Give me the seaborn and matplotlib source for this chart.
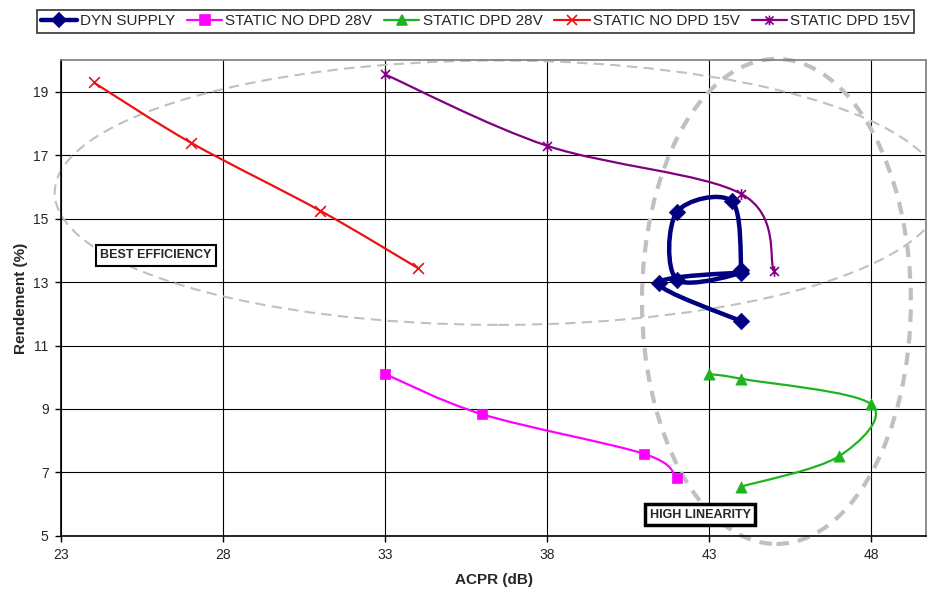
import numpy as np
import matplotlib
matplotlib.use('Agg')
import matplotlib.pyplot as plt
import seaborn as sns
from matplotlib.path import Path
from matplotlib.patches import PathPatch, Ellipse
from matplotlib.lines import Line2D
from matplotlib import font_manager

# ---- données ----
dyn_x = [44, 41.45, 44, 42, 42, 43.7, 44]
dyn_y = [11.76, 12.96, 13.3, 13.08, 15.2, 15.55, 13.37]

nodpd28_x = [33, 36, 41, 42]
nodpd28_y = [10.1, 8.83, 7.58, 6.82]

dpd28_x = [43, 44, 48, 47, 44]
dpd28_y = [10.1, 9.95, 9.15, 7.5, 6.55]

nodpd15_x = [24, 27, 31, 34]
nodpd15_y = [19.3, 17.4, 15.25, 13.45]

dpd15_x = [33, 38, 44, 45]
dpd15_y = [19.55, 17.3, 15.78, 13.35]

labels = ['DYN SUPPLY', 'STATIC NO DPD 28V', 'STATIC DPD 28V',
          'STATIC NO DPD 15V', 'STATIC DPD 15V']
x_ticks = [23, 28, 33, 38, 43, 48]
y_ticks = [5, 7, 9, 11, 13, 15, 17, 19]

# ---- style ----
sns.set_theme(style='white')
available = set(f.name for f in font_manager.fontManager.ttflist)
fam = 'Liberation Sans Narrow' if 'Liberation Sans Narrow' in available else 'Liberation Sans'
plt.rcParams['font.family'] = [fam, 'DejaVu Sans']

# marqueur étoile façon Excel (x + barre verticale)
star = Path([(-1, -1), (1, 1), (-1, 1), (1, -1), (0, -1.2), (0, 1.2)],
            [Path.MOVETO, Path.LINETO, Path.MOVETO, Path.LINETO, Path.MOVETO, Path.LINETO])

series = [
    (dyn_x, dyn_y, '#000080', 'D', 3.2, 70, True),
    (nodpd28_x, nodpd28_y, '#ff00ff', 's', 1.6, 60, True),
    (dpd28_x, dpd28_y, '#1fb41f', '^', 1.6, 65, True),
    (nodpd15_x, nodpd15_y, '#ee1111', 'x', 1.6, 60, False),
    (dpd15_x, dpd15_y, '#800080', star, 1.6, 60, False),
]


def smooth_path(xs, ys):
    # courbe lissée type Excel (Bézier / Catmull-Rom)
    p = np.column_stack([xs, ys]).astype(float)
    n = len(p)
    verts = [p[0]]
    codes = [Path.MOVETO]
    for i in range(n - 1):
        p0 = p[i - 1] if i > 0 else p[i]
        p3 = p[i + 2] if i + 2 < n else p[i + 1]
        c1 = p[i] + (p[i + 1] - p0) / 6.0
        c2 = p[i + 1] - (p3 - p[i]) / 6.0
        verts += [c1, c2, p[i + 1]]
        codes += [Path.CURVE4] * 3
    return Path(verts, codes)


fig = plt.figure(figsize=(9.27, 5.9), dpi=100)
ax = fig.add_axes([0.066, 0.092, 0.933, 0.806])

for xs, ys, c, m, lw, s, filled in series:
    ax.add_patch(PathPatch(smooth_path(xs, ys), fc='none', ec=c, lw=lw, zorder=3))
    if filled:
        sns.scatterplot(x=xs, y=ys, marker=m, s=s, color=c, edgecolor=c,
                        linewidth=0.5, ax=ax, zorder=4)
    else:
        ax.scatter(xs, ys, marker=m, s=s, c=c, linewidths=1.2, zorder=4) if m is star else \
            sns.scatterplot(x=xs, y=ys, marker=m, s=s, color=c, linewidth=1.2, ax=ax, zorder=4)

# ellipses en pointillés
ax.add_patch(Ellipse((36.5, 15.82), 27.4, 8.34, fill=False, ec='#c0c0c0',
                     lw=1.5, ls=(0, (5, 3)), clip_on=False, zorder=2))
ax.add_patch(Ellipse((45.08, 12.39), 8.3, 15.3, fill=False, ec='#c0c0c0',
                     lw=3, ls=(0, (3, 2.2)), clip_on=False, zorder=2))

ax.text(25.92, 13.84, 'BEST EFFICIENCY', ha='center', va='center', fontsize=9,
        fontweight='bold', family=['Liberation Sans', 'DejaVu Sans'],
        bbox=dict(boxstyle='square,pad=0.35', fc='white', ec='black', lw=1.5), zorder=5)
ax.text(42.73, 5.66, 'HIGH LINEARITY', ha='center', va='center', fontsize=9,
        fontweight='bold', family=['Liberation Sans', 'DejaVu Sans'],
        bbox=dict(boxstyle='square,pad=0.35', fc='white', ec='black', lw=2.5), zorder=5)

ax.set_xlim(23, 49.7)
ax.set_ylim(5, 20)
ax.set_xticks(x_ticks)
ax.set_yticks(y_ticks)
ax.grid(True, color='black', lw=0.8)
ax.set_axisbelow(True)
ax.tick_params(axis='both', labelsize=10, length=4, width=1, color='black',
               direction='out', bottom=True, left=True, pad=5)
for side in ('top', 'right'):
    ax.spines[side].set_color('#808080')
for side in ('left', 'bottom'):
    ax.spines[side].set_color('black')
    ax.spines[side].set_linewidth(1.2)

ax.set_xlabel('ACPR (dB)', fontsize=11, fontweight='bold', labelpad=8)
ax.set_ylabel('Rendement (%)', fontsize=11, fontweight='bold', labelpad=4)

handles = []
for (xs, ys, c, m, lw, s, filled) in series:
    handles.append(Line2D([], [], color=c, lw=lw, marker=m, markersize=7,
                          markerfacecolor=c if filled else 'none',
                          markeredgecolor=c, markeredgewidth=1.2))
leg = fig.legend(handles, labels, loc='center', bbox_to_anchor=(0.513, 0.9636),
                 ncol=5, fontsize=11, frameon=True, fancybox=False,
                 handlelength=2.3, handletextpad=0.2, columnspacing=0.8,
                 borderpad=0.3, edgecolor='black')
leg.get_frame().set_linewidth(1.2)

fig.savefig('out.png', dpi=100)
